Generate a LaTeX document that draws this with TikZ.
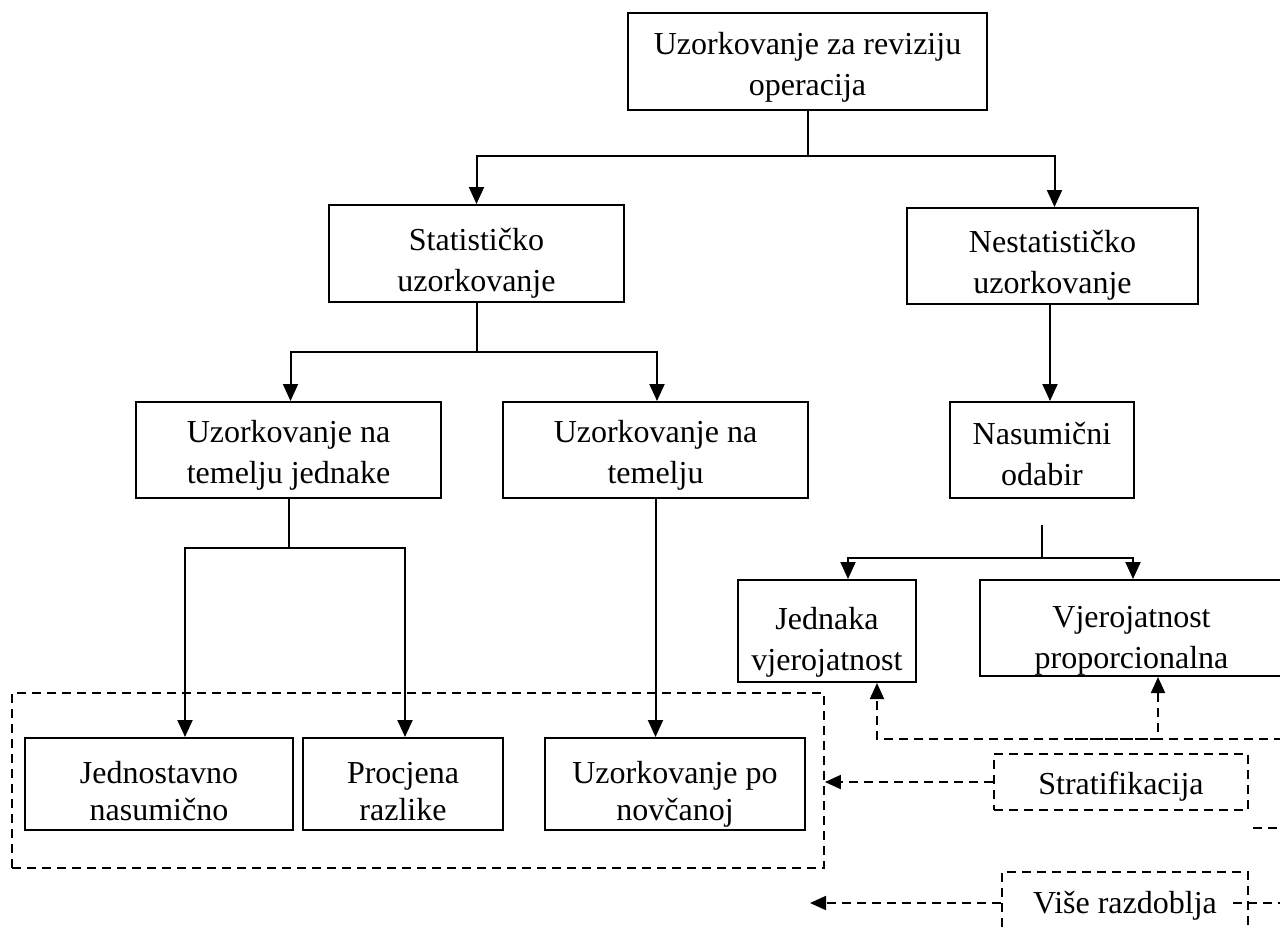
\documentclass[tikz,border=0pt]{standalone}
\usepackage{fontspec}
\setmainfont{Liberation Serif}
\usetikzlibrary{arrows.meta}
\newcommand{\lowtext}[2]{\raisebox{-#1}[\height][\depth]{\begin{tabular}{@{}c@{}}#2\end{tabular}}}
\begin{document}
\begin{tikzpicture}[x=1pt,y=-1pt,
  box/.style={draw, line width=2pt, align=center, inner sep=0pt, font=\fontsize{32pt}{41pt}\selectfont},
  lowbox/.style={box, font=\fontsize{32pt}{37pt}\selectfont},
  dbox/.style={draw, line width=1.8pt, dash pattern=on 9pt off 6pt, align=center, inner sep=0pt, font=\fontsize{32pt}{40pt}\selectfont},
  arr/.style={line width=2pt, -{Triangle[length=17pt,width=15pt]}},
  darr/.style={line width=1.8pt, dash pattern=on 9pt off 6pt, -{Triangle[length=16pt,width=14pt]}},
  dline/.style={line width=1.8pt, dash pattern=on 9pt off 6pt},
  solid line/.style={line width=2pt}]
\useasboundingbox (0,0) rectangle (1280,930);
\fill[white] (0,0) rectangle (1280,930);
% nodes
\node[box, minimum width=359pt, minimum height=97pt] (top) at (807.5,61.5) {\lowtext{5pt}{Uzorkovanje za reviziju\\operacija}};
\node[box, minimum width=295pt, minimum height=97pt] (stat) at (476.5,253.5) {\lowtext{9pt}{Statističko\\uzorkovanje}};
\node[box, minimum width=291pt, minimum height=96pt] (nstat) at (1052.5,256) {\lowtext{9pt}{Nestatističko\\uzorkovanje}};
\node[box, minimum width=305pt, minimum height=96pt] (ujed) at (288.5,450) {\lowtext{5pt}{Uzorkovanje na\\temelju jednake}};
\node[box, minimum width=305pt, minimum height=96pt] (utem) at (655.5,450) {\lowtext{5pt}{Uzorkovanje na\\temelju}};
\node[box, minimum width=184pt, minimum height=96pt] (nas) at (1042,450) {\lowtext{7pt}{Nasumični\\odabir}};
\node[box, minimum width=178pt, minimum height=102pt] (jed) at (827,631) {\lowtext{11pt}{Jednaka\\vjerojatnost}};
\node[box, minimum width=303pt, minimum height=96pt] (vje) at (1131.5,628) {\lowtext{12pt}{Vjerojatnost\\proporcionalna}};
\node[dbox, minimum width=812pt, minimum height=175pt] (grp) at (418,780.5) {};
\node[lowbox, minimum width=268pt, minimum height=92pt] (jnas) at (159,784) {\lowtext{11pt}{Jednostavno\\nasumično}};
\node[lowbox, minimum width=200pt, minimum height=92pt] (proc) at (403,784) {\lowtext{11pt}{Procjena\\razlike}};
\node[lowbox, minimum width=260pt, minimum height=92pt] (novc) at (675,784) {\lowtext{11pt}{Uzorkovanje po\\novčanoj}};
\node[dbox, minimum width=254pt, minimum height=56pt] (strat) at (1121,782) {\lowtext{4pt}{Stratifikacija}};
\node[dbox, minimum width=246pt, minimum height=62pt] (vise) at (1125,903) {\lowtext{2pt}{Više razdoblja}};
% coordinates
\coordinate (t1) at (807.5,156);
\coordinate (s1) at (476.5,352);
\coordinate (u1) at (288.5,548);
\coordinate (n0) at (1042,525);
\coordinate (n1) at (1042,558);
\coordinate (r1) at (1283,739);
\coordinate (r2) at (1075,739);
\coordinate (v1) at (810,903);
\coordinate (v2) at (1233,903);
\coordinate (v3) at (1283,903);
\coordinate (q2) at (1253,828);
\coordinate (q3) at (1283,828);
% solid connectors
\draw[solid line] (top.south) -- (t1);
\draw[arr] (t1) -| (stat.north);
\draw[arr] (t1) -| ([xshift=2pt]nstat.north);
\draw[solid line] (stat.south) -- (s1);
\draw[arr] (s1) -| ([xshift=2pt]ujed.north);
\draw[arr] (s1) -| ([xshift=1.5pt]utem.north);
\draw[arr] ([xshift=-2.5pt]nstat.south) -- ([xshift=-2.5pt]nstat.south |- nas.north);
\draw[solid line] (n0) -- (n1);
\draw[arr] (n1) -| ([xshift=21pt]jed.north);
\draw[arr] (n1) -| ([xshift=1.5pt]vje.north);
\draw[solid line] (ujed.south) -- (u1);
\draw[arr] (u1) -| ([xshift=26pt]jnas.north);
\draw[arr] (u1) -| ([xshift=2pt]proc.north);
\draw[arr] (utem.south) -- (utem.south |- novc.north);
% dashed connectors
\draw[darr] (r1) -| ([xshift=50pt]jed.south);
\draw[darr] (r2) -| ([xshift=26.5pt]vje.south);
\draw[darr] (strat.west) -- (strat.west -| grp.east);
\draw[darr] (vise.west) -- (v1);
\draw[dline] (v2) -- (v3);
\draw[dline] (q2) -- (q3);
\end{tikzpicture}
\end{document}
